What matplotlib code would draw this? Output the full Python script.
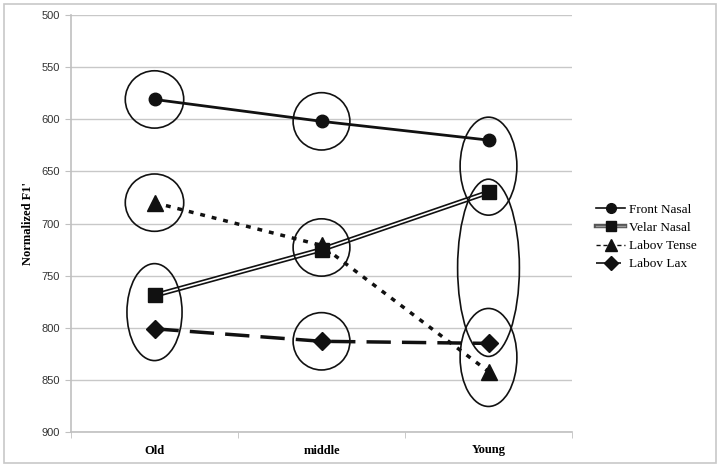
import matplotlib.pyplot as plt
from matplotlib.patches import Ellipse, Rectangle
from matplotlib.lines import Line2D
from matplotlib.legend_handler import HandlerTuple

groups = ['Old', 'middle', 'Young']
front_nasal = [581, 602, 620]
velar_nasal = [769, 725, 670]
labov_tense = [680, 721, 842]
labov_lax = [801, 813, 815]

series = {'front': front_nasal, 'velar': velar_nasal, 'tense': labov_tense, 'lax': labov_lax}

# rings around clusters: (group index, series inside, ring width in categories, ring height in F1' units)
rings = [
    (0, ['front'], 0.35, 55),
    (0, ['tense'], 0.35, 55),
    (0, ['velar', 'lax'], 0.33, 93),
    (1, ['front'], 0.34, 55),
    (1, ['velar', 'tense'], 0.34, 55),
    (1, ['lax'], 0.34, 55),
    (2, ['front', 'velar'], 0.34, 94),
    (2, ['velar', 'lax'], 0.37, 170),
    (2, ['lax', 'tense'], 0.34, 94),
]

serif = ['Liberation Serif', 'DejaVu Serif']
fig = plt.figure(figsize=(7.2, 4.67), dpi=100)
ax = fig.add_axes([71/720, 1-432/467, 501/720, 417/467])
x = range(len(groups))

ax.plot(x, front_nasal, color='#111', lw=2, marker='o', ms=9, zorder=3)
ax.plot(x, velar_nasal, color='#111', lw=3.6, zorder=3)
ax.plot(x, velar_nasal, color='white', lw=1.2, zorder=3.1)
ax.plot(x, velar_nasal, ls='none', color='#111', marker='s', ms=10, zorder=3.2)
ax.plot(x, labov_tense, color='#111', lw=2.5, ls=(0, (1.4, 2.0)), marker='^', ms=11, zorder=3)
ax.plot(x, labov_lax, color='#111', lw=2.5, ls=(0, (7, 3.2)), marker='D', ms=9, zorder=3)

for gi, members, w, h in rings:
    vals = [series[m][gi] for m in members]
    cy = (min(vals) + max(vals)) / 2
    ax.add_patch(Ellipse((gi, cy), w, h, fill=False, ec='#111', lw=1.2, zorder=4))

ax.set_xlim(-0.5, 2.5)
ax.set_ylim(900, 500)
ax.set_yticks(range(500, 901, 50))
ax.yaxis.grid(True, color='#c8c8c8', lw=1)
ax.set_axisbelow(True)
for s in ['top', 'right']:
    ax.spines[s].set_visible(False)
for s in ['left', 'bottom']:
    ax.spines[s].set_color('#c0c0c0')
    ax.spines[s].set_linewidth(1.2)
ax.set_xticks(range(len(groups)))
ax.set_xticklabels(groups, family=serif, fontweight='bold', fontsize=9)
ax.set_xticks([-0.5, 0.5, 1.5, 2.5], minor=True)
ax.tick_params(axis='x', which='major', length=0, pad=9)
ax.tick_params(axis='x', which='minor', length=4, color='#c0c0c0')
ax.tick_params(axis='y', length=4, color='#c0c0c0', labelsize=8, labelcolor='#333', pad=4)
for lab in ax.get_yticklabels():
    lab.set_family(['Liberation Sans', 'DejaVu Sans'])
ax.set_ylabel("Normalized F1'", family=serif, fontweight='bold', fontsize=9, labelpad=5)

# legend keys drawn thinner than the chart lines, as in the original
h_front = Line2D([], [], color='#111', lw=1.2, marker='o', ms=7)
h_velar = (Line2D([], [], color='#555', lw=3.2),
           Line2D([], [], color='#999', lw=1.0),
           Line2D([], [], ls='none', color='#111', marker='s', ms=7))
h_tense = Line2D([], [], color='#111', lw=1.0, ls=(0, (3, 2)), marker='^', ms=8)
h_lax = Line2D([], [], color='#111', lw=1.2, ls=(0, (6, 3)), marker='D', ms=7)
fig.legend([h_front, h_velar, h_tense, h_lax],
           ['Front Nasal', 'Velar Nasal', 'Labov Tense', 'Labov Lax'],
           handler_map={tuple: HandlerTuple(ndivide=1)},
           loc='center left', bbox_to_anchor=(596/720, 1-237/467), frameon=False,
           prop={'family': serif, 'size': 9.5}, handlelength=2.2, handletextpad=0.3,
           labelspacing=0.45, borderaxespad=0, borderpad=0)

fig.add_artist(Rectangle((4/720, 4/467), 712/720, 459/467, transform=fig.transFigure,
                         fill=False, ec='#c8c8c8', lw=1.2))

fig.savefig('out.png', dpi=100)
